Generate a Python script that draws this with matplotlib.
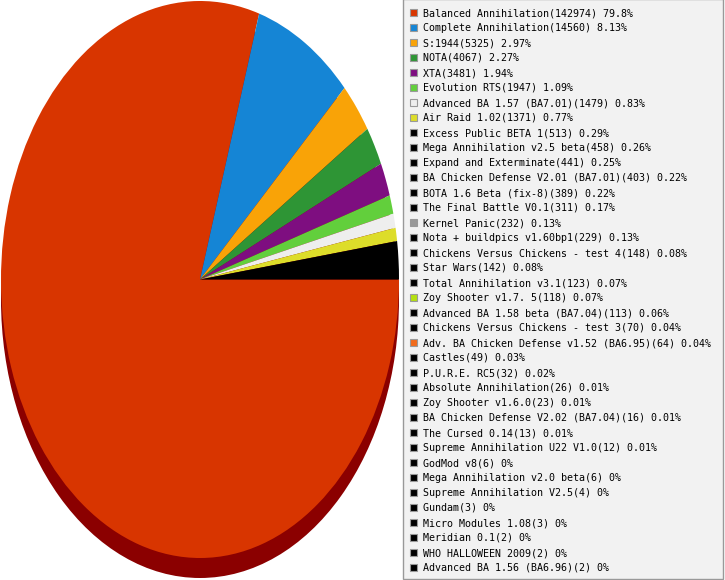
import matplotlib
matplotlib.use("Agg")
import matplotlib.pyplot as plt
from matplotlib.patches import Ellipse, Rectangle

names = [
    "Balanced Annihilation", "Complete Annihilation", "S:1944", "NOTA", "XTA",
    "Evolution RTS", "Advanced BA 1.57 (BA7.01)", "Air Raid 1.02",
    "Excess Public BETA 1", "Mega Annihilation v2.5 beta", "Expand and Exterminate",
    "BA Chicken Defense V2.01 (BA7.01)", "BOTA 1.6 Beta (fix-8)", "The Final Battle V0.1",
    "Kernel Panic", "Nota + buildpics v1.60bp1", "Chickens Versus Chickens - test 4",
    "Star Wars", "Total Annihilation v3.1", "Zoy Shooter v1.7. 5",
    "Advanced BA 1.58 beta (BA7.04)", "Chickens Versus Chickens - test 3",
    "Adv. BA Chicken Defense v1.52 (BA6.95)", "Castles", "P.U.R.E. RC5",
    "Absolute Annihilation", "Zoy Shooter v1.6.0", "BA Chicken Defense V2.02 (BA7.04)",
    "The Cursed 0.14", "Supreme Annihilation U22 V1.0", "GodMod v8",
    "Mega Annihilation v2.0 beta", "Supreme Annihilation V2.5", "Gundam",
    "Micro Modules 1.08", "Meridian 0.1", "WHO HALLOWEEN 2009", "Advanced BA 1.56 (BA6.96)",
]
counts = [
    142974, 14560, 5325, 4067, 3481, 1947, 1479, 1371, 513, 458, 441, 403, 389, 311,
    232, 229, 148, 142, 123, 118, 113, 70, 64, 49, 32, 26, 23, 16, 13, 12, 6, 6, 4,
    3, 3, 2, 2, 2,
]
colors = [
    "#d83500", "#1585d5", "#f9a307", "#2e9535", "#7e0e80", "#62cf3c", "#eeeeee",
    "#dddd2a", "#000000", "#000000", "#000000", "#000000", "#000000", "#000000",
    "#999999", "#000000", "#000000", "#000000", "#000000", "#b4e010", "#000000",
    "#000000", "#f26b1c", "#000000", "#000000", "#000000", "#000000", "#000000",
    "#000000", "#000000", "#000000", "#000000", "#000000", "#000000", "#000000",
    "#000000", "#000000", "#000000",
]
n_shown = 8          # slices drawn individually; the rest form one black "other" slice
other_color = "#000000"

total = sum(counts)
labels = []
for n, c in zip(names, counts):
    p = round(c / total * 100, 2)
    labels.append(f"{n}({c}) {p:g}%")

pie_vals = counts[:n_shown] + [sum(counts[n_shown:])]
pie_cols = colors[:n_shown] + [other_color]

W, H = 725, 580
fig = plt.figure(figsize=(W / 100, H / 100), dpi=100)

# pie axes: ellipse via non-equal aspect
cx, cy = 200.0, 279.5
rx, ry = 199.0, 278.5
ax = fig.add_axes([0, 0, 1, 1])
ax.add_patch(Ellipse((0, -20 / ry), 2, 2, facecolor="#8b0000", edgecolor="none", zorder=0))
ax.pie(pie_vals, colors=pie_cols, startangle=0, counterclock=False, radius=1,
       center=(0, 0), wedgeprops=dict(linewidth=0))
ax.set_aspect("auto")
ax.set_xlim((0 - cx) / rx, (W - cx) / rx)
ax.set_ylim((cy - H) / ry, cy / ry)
ax.axis("off")

# legend overlay in pixel coords
ov = fig.add_axes([0, 0, 1, 1])
ov.set_xlim(0, W)
ov.set_ylim(H, 0)
ov.axis("off")
ov.patch.set_alpha(0)
ov.add_patch(Rectangle((403.5, -1), 320, 579.5, facecolor="#f2f2f2",
                       edgecolor="#999999", linewidth=1.0))
for i, (lab, col) in enumerate(zip(labels, colors)):
    y = 12 + 15 * i
    ov.add_patch(Rectangle((410.5, y - 3.5), 7, 7, facecolor=col,
                           edgecolor="#999999", linewidth=0.8))
    ov.text(423, y + 4, lab, fontsize=7.18, family="DejaVu Sans Mono",
            va="baseline", ha="left", color="#000000")

fig.savefig("out.png", dpi=100)
